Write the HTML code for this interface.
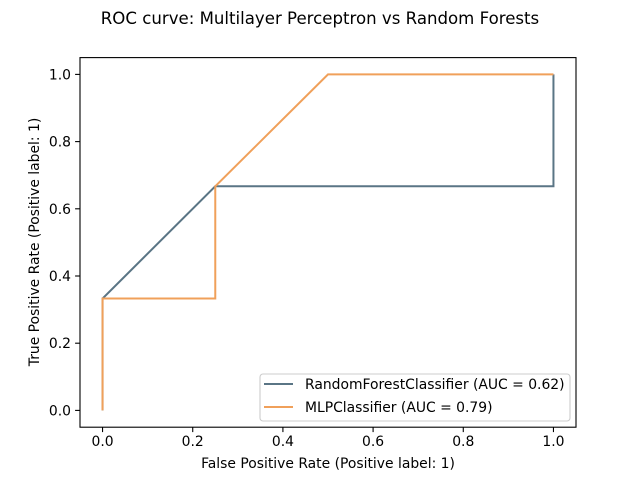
<!DOCTYPE html>
<html><head><meta charset="utf-8"><style>
body{margin:0;background:#fff;}
svg text{font-family:"DejaVu Sans","Liberation Sans",sans-serif;fill:#000;}
</style></head><body>
<svg width="640" height="480" xmlns="http://www.w3.org/2000/svg">
<rect width="640" height="480" fill="#fff"/>
<text x="320" y="24" font-size="16.6" text-anchor="middle">ROC curve: Multilayer Perceptron vs Random Forests</text>
<g id="plot"></g>
<text x="328" y="468" font-size="13.9" text-anchor="middle">False Positive Rate (Positive label: 1)</text>
<text transform="translate(39,242) rotate(-90)" font-size="13.9" text-anchor="middle">True Positive Rate (Positive label: 1)</text>
</svg>
<script>
const xTicks=[0,0.2,0.4,0.6,0.8,1.0];
const yTicks=[0,0.2,0.4,0.6,0.8,1.0];
const tickLabels=["0.0","0.2","0.4","0.6","0.8","1.0"];
const rfFpr=[0,0,0.25,1,1];
const rfTpr=[0,0.333,0.667,0.667,1];
const mlpFpr=[0,0,0.25,0.25,0.5,1];
const mlpTpr=[0,0.333,0.333,0.667,1,1];
const legendLabels=["RandomForestClassifier (AUC = 0.62)","MLPClassifier (AUC = 0.79)"];
const L=80,R=576,T=57.6,B=427.2;
const sx=v=>L+(v+0.05)/1.1*(R-L);
const sy=v=>B-(v+0.05)/1.1*(B-T);
const NS="http://www.w3.org/2000/svg";
const g=document.getElementById('plot');
function mk(t,a){const e=document.createElementNS(NS,t);for(const k in a)e.setAttribute(k,a[k]);g.appendChild(e);return e;}
xTicks.forEach((v,i)=>{
 const l=mk('line',{x1:sx(v),x2:sx(v),y1:B,y2:B+4.9,stroke:'#000','stroke-width':1.1});
 
 
 const t=mk('text',{x:sx(v),y:B+19,'font-size':13.9,'text-anchor':'middle'});t.textContent=tickLabels[i];
 
 
});
yTicks.forEach((v,i)=>{
 const l=mk('line',{x1:L-4.9,x2:L,y1:sy(v),y2:sy(v),stroke:'#000','stroke-width':1.1});
 
 
 const t=mk('text',{x:L-9,y:sy(v)+5,'font-size':13.9,'text-anchor':'end'});t.textContent=tickLabels[i];
 
 
});
function curve(xs,ys,c,n){
 const p=mk('polyline',{points:xs.map((x,i)=>sx(x)+','+sy(ys[i])).join(' '),fill:'none',stroke:c,'stroke-width':2});
 
 
}
curve(rfFpr,rfTpr,'#5a7585','rf-roc-curve');
curve(mlpFpr,mlpTpr,'#f0a05a','mlp-roc-curve');
const fr=mk('rect',{x:L,y:T,width:R-L,height:B-T,fill:'none',stroke:'#000','stroke-width':1.1});


const lb=mk('rect',{x:260,y:374,width:310,height:47,rx:3,fill:'#fff','fill-opacity':0.8,stroke:'#ccc','stroke-width':1.1});


const cols=['#5a7585','#f0a05a'];
legendLabels.forEach((s,i)=>{
 const y=384+i*23;
 const l=mk('line',{x1:264,x2:293,y1:y,y2:y,stroke:cols[i],'stroke-width':2});
 
 
 const t=mk('text',{x:305,y:y+5,'font-size':13.9});t.textContent=s;
 
 
});
</script>
</body></html>
